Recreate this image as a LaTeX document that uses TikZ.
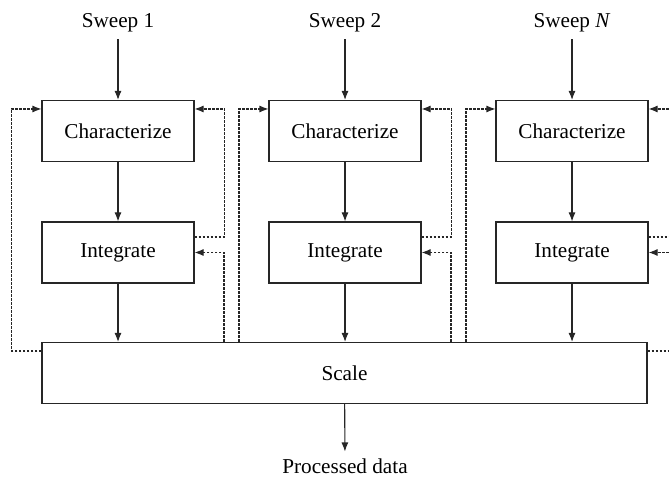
\documentclass[tikz,border=0pt]{standalone}
\usepackage{fontspec}
\setmainfont{Liberation Serif}
\usetikzlibrary{arrows.meta}

\begin{document}
\begin{tikzpicture}[x=0.5pt,y=-0.5pt,font=\fontsize{10.6}{13}\selectfont,
	box/.style={draw=black!85,line width=0.55pt,minimum width=76pt,minimum height=30.5pt,inner sep=0pt},
	flow/.style={draw=black!85,line width=0.55pt,-{Latex[length=4.5pt,width=3.5pt]}},
	fb/.style={draw=black!85,line width=0.55pt,dash pattern=on 1.3pt off 0.7pt},
	loop/.style={fb,-{Latex[length=4.5pt,width=3.5pt]}}]
		\useasboundingbox (0,0) rectangle (669,486);
		\coordinate (edge) at (669,0);
		\node (sw1) at (118,23) {Sweep 1};
		\node (sw2) at (345,23) {Sweep 2};
		\node (sw3) at (572,23) {Sweep \textit{N}};
		\node[box] (char1) at (118,131) {Characterize};
		\node[box] (char2) at (345,131) {Characterize};
		\node[box] (char3) at (572,131) {Characterize};
		\node[box] (int1) at (118,252.5) {Integrate};
		\node[box] (int2) at (345,252.5) {Integrate};
		\node[box] (int3) at (572,252.5) {Integrate};
		\node[box,minimum width=302.5pt] (scale) at (344.5,373) {Scale};
		\node (out) at (345,466) {Processed data};
		\draw[flow] (sw1) -- (char1);
		\draw[flow] (sw2) -- (char2);
		\draw[flow] (sw3) -- (char3);
		\draw[flow] (char1) -- (int1);
		\draw[flow] (char2) -- (int2);
		\draw[flow] (char3) -- (int3);
		\draw[flow] (int1) -- (int1 |- scale.north);
		\draw[flow] (int2) -- (int2 |- scale.north);
		\draw[flow] (int3) -- (int3 |- scale.north);
		\draw[flow] (scale) -- (out);
		\draw[loop] ([yshift=11pt]scale.west) -- ++(-30,0) |- ([yshift=11pt]char1.west);
		\draw[loop] ([yshift=7.75pt]int1.east) -- ++(30,0) |- ([yshift=11pt]char1.east);
		\draw[loop] (scale.north -| 224,0) |- (int1.east);
		\draw[loop] (scale.north -| 239,0) |- ([yshift=11pt]char2.west);
		\draw[loop] ([yshift=7.75pt]int2.east) -- ++(30,0) |- ([yshift=11pt]char2.east);
		\draw[loop] (scale.north -| 451,0) |- (int2.east);
		\draw[loop] (scale.north -| 466,0) |- ([yshift=11pt]char3.west);
		\draw[fb] ([yshift=7.75pt]int3.east) -- ([yshift=7.75pt]int3.east -| edge);
		\draw[loop] (int3.east -| edge) -- (int3.east);
		\draw[loop] ([yshift=11pt]char3.east -| edge) -- ([yshift=11pt]char3.east);
		\draw[fb] ([yshift=11pt]scale.east) -- ([yshift=11pt]scale.east -| edge);
\end{tikzpicture}
\end{document}
